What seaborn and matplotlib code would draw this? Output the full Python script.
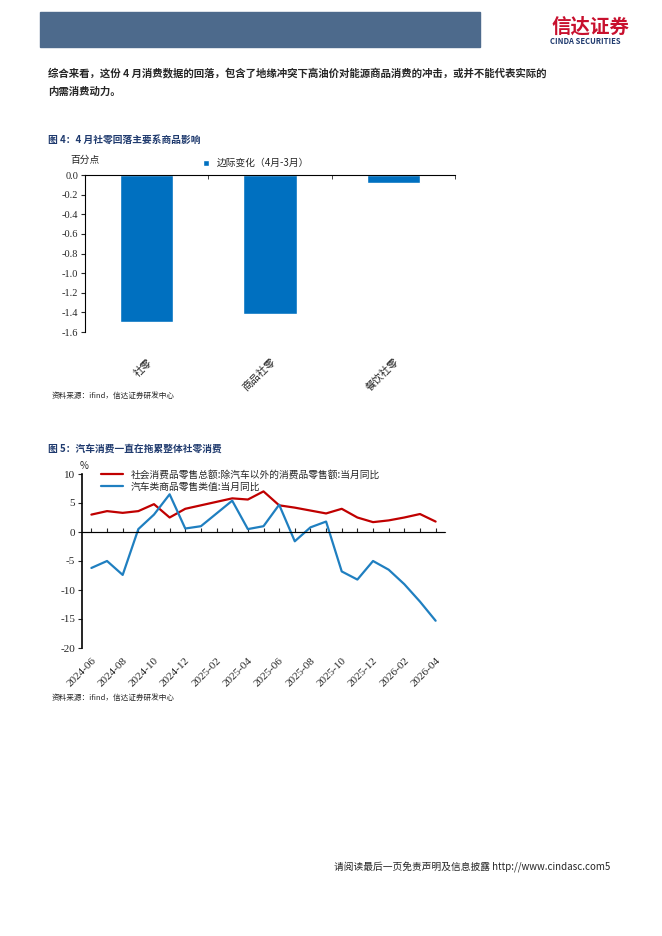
import seaborn as sns
import matplotlib.pyplot as plt
import pandas as pd

sns.set_style("white")
plt.rcParams['font.family'] = ['Noto Sans CJK SC', 'DejaVu Sans']

# 图4 数据
cats = ['社零', '商品社零', '餐饮社零']
change = [-1.50, -1.42, -0.08]

# 图5 数据
months = ['2024-06', '2024-07', '2024-08', '2024-09', '2024-10', '2024-11', '2024-12',
          '2025-01', '2025-02', '2025-03', '2025-04', '2025-05', '2025-06', '2025-07',
          '2025-08', '2025-09', '2025-10', '2025-11', '2025-12', '2026-01', '2026-02',
          '2026-03', '2026-04']
ex_auto = [3.0, 3.6, 3.3, 3.6, 4.8, 2.5, 4.0, 4.6, 5.2, 5.8, 5.6, 7.0, 4.6, 4.2,
           3.7, 3.2, 4.0, 2.5, 1.7, 2.0, 2.5, 3.1, 1.8]
auto = [-6.2, -5.0, -7.4, 0.5, 3.0, 6.5, 0.6, 1.0, 3.2, 5.4, 0.5, 1.0, 4.7, -1.6,
        0.8, 1.8, -6.8, -8.2, -5.0, -6.5, -9.0, -12.0, -15.3]

W, H = 662, 936
fig = plt.figure(figsize=(W / 100, H / 100), dpi=100)

def box(x0, y0, x1, y1):
    return [x0 / W, 1 - y1 / H, (x1 - x0) / W, (y1 - y0) / H]

# 页眉
fig.patches.append(plt.Rectangle((40 / W, 1 - 47 / H), 440 / W, 35 / H,
                                 transform=fig.transFigure, color='#4d6a8c'))
fig.text(552 / W, 1 - 27 / H, '信达证券', fontsize=14, color='#c8102e', weight='bold', va='center')
fig.text(550 / W, 1 - 42 / H, 'CINDA SECURITIES', fontsize=5.5, color='#1f3a6e', weight='bold', va='center')

fig.text(48 / W, 1 - 73 / H, '综合来看，这份 4 月消费数据的回落，包含了地缘冲突下高油价对能源商品消费的冲击，或并不能代表实际的',
         fontsize=7.5, weight='bold', va='center')
fig.text(48 / W, 1 - 92 / H, '内需消费动力。', fontsize=7.5, weight='bold', va='center')

# 图4
fig.text(48 / W, 1 - 140 / H, '图 4：4 月社零回落主要系商品影响', fontsize=7, weight='bold', color='#1f3a6e', va='center')
ax1 = fig.add_axes(box(85, 175, 455, 332))
df1 = pd.DataFrame({'cat': cats, 'val': change})
sns.barplot(data=df1, x='cat', y='val', color='#0070c0', width=0.43, ax=ax1,
            label='边际变化（4月-3月）', saturation=1)
ax1.set_ylim(-1.6, 0)
ax1.set_yticks([0, -0.2, -0.4, -0.6, -0.8, -1.0, -1.2, -1.4, -1.6])
ax1.set_yticklabels([f'{v:.1f}' for v in ax1.get_yticks()], fontsize=7.5, family='Liberation Serif')
ax1.set_xlim(-0.5, 2.5)
ax1.set_xlabel('')
ax1.set_ylabel('')
for s in ['right', 'bottom']:
    ax1.spines[s].set_visible(False)
ax1.spines['top'].set_color('black')
ax1.spines['left'].set_color('black')
ax1.tick_params(axis='y', left=True, length=3, pad=2)
ax1.set_xticks([0, 1, 2])
ax1.set_xticklabels(cats, rotation=45, fontsize=7.5, ha='right', rotation_mode='anchor')
ax1.tick_params(axis='x', bottom=False, top=False, pad=14)
ax1.set_xticks([-0.5, 0.5, 1.5, 2.5], minor=True)
ax1.tick_params(axis='x', which='minor', top=True, direction='in', length=3)
ax1.legend(loc='lower left', bbox_to_anchor=(0.3, 1.0), frameon=False, fontsize=7,
           handlelength=0.6, handleheight=0.6, borderpad=0.2)
fig.text(70 / W, 1 - 160 / H, '百分点', fontsize=7, va='center')
fig.text(52 / W, 1 - 396 / H, '资料来源：ifind，信达证券研发中心', fontsize=5.5, style='italic', va='center')

# 图5
fig.text(48 / W, 1 - 449 / H, '图 5：汽车消费一直在拖累整体社零消费', fontsize=7, weight='bold', color='#1f3a6e', va='center')
ax2 = fig.add_axes(box(82, 474, 445, 648))
df2 = pd.DataFrame({'month': months, 'ex': ex_auto, 'auto': auto})
sns.lineplot(data=df2, x='month', y='ex', color='#c00000', lw=1.6, ax=ax2,
             label='社会消费品零售总额:除汽车以外的消费品零售额:当月同比')
sns.lineplot(data=df2, x='month', y='auto', color='#1f7fc0', lw=1.6, ax=ax2,
             label='汽车类商品零售类值:当月同比')
ax2.set_ylim(-20, 10)
ax2.set_xlim(-0.6, len(months) - 0.4)
ax2.set_yticks([10, 5, 0, -5, -10, -15, -20])
ax2.set_yticklabels([str(v) for v in ax2.get_yticks()], fontsize=8, family='Liberation Serif')
ax2.tick_params(axis='y', left=True, length=3, pad=2)
ax2.set_xlabel('')
ax2.set_ylabel('')
for s in ['right', 'top', 'bottom']:
    ax2.spines[s].set_visible(False)
ax2.spines['left'].set_color('black')
ax2.spines['left'].set_linewidth(1.2)
ax2.axhline(0, color='black', lw=0.8)
ax2.set_xticks(range(0, len(months), 2))
ax2.set_xticklabels(months[::2], rotation=45, fontsize=8, family='Liberation Serif',
                    ha='right', rotation_mode='anchor')
ax2.tick_params(axis='x', bottom=False, pad=2)
sec = ax2.secondary_xaxis(2 / 3)
sec.set_xticks(range(len(months)))
sec.set_xticklabels([])
sec.tick_params(length=3, direction='out')
sec.spines['bottom'].set_visible(False)
ax2.legend(loc='lower left', bbox_to_anchor=(0.04, 0.87), frameon=False, fontsize=7,
           handlelength=2.2, borderpad=0, labelspacing=0.2)
fig.text(80 / W, 1 - 466 / H, '%', fontsize=7, va='center')
fig.text(52 / W, 1 - 698 / H, '资料来源：ifind，信达证券研发中心', fontsize=5.5, style='italic', va='center')

# 页脚
fig.text(610 / W, 1 - 867 / H, '请阅读最后一页免责声明及信息披露 http://www.cindasc.com5', fontsize=7, ha='right', va='center')

fig.savefig('out.png', dpi=100)
